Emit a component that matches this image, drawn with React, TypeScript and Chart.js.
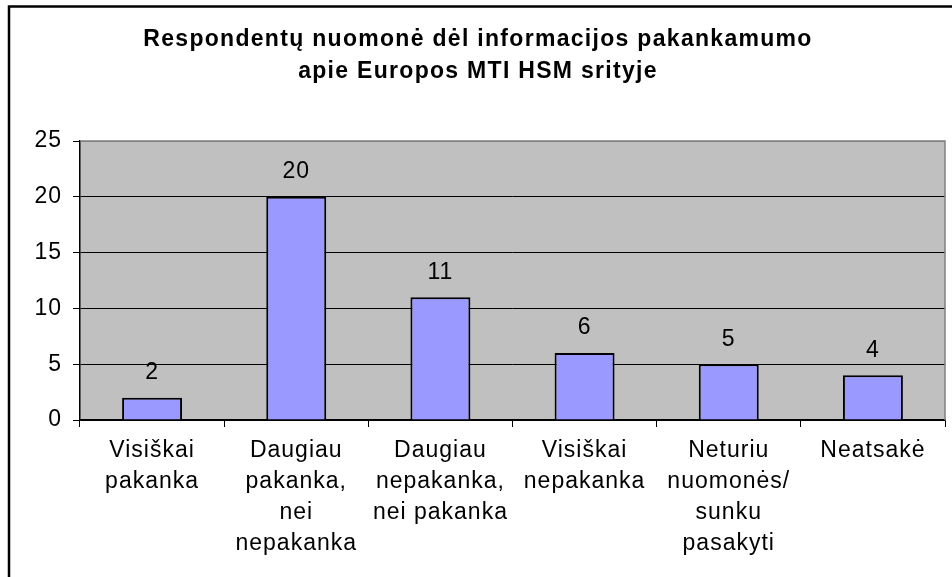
import { useEffect, useRef } from "react";
import { Chart, registerables } from "chart.js";

Chart.register(...registerables);

const titleLines = [
  "Respondentų nuomonė dėl informacijos pakankamumo",
  "apie Europos MTI HSM srityje",
];
const categories = [
  ["Visiškai", "pakanka"],
  ["Daugiau", "pakanka,", "nei", "nepakanka"],
  ["Daugiau", "nepakanka,", "nei pakanka"],
  ["Visiškai", "nepakanka"],
  ["Neturiu", "nuomonės/", "sunku", "pasakyti"],
  ["Neatsakė"],
];
const values = [2, 20, 11, 6, 5, 4];
const yMin = 0;
const yMax = 25;
const yStep = 5;

const FONT = 'Arial, "Liberation Sans", sans-serif';
const SPACING = "1px";

function setSpacing(ctx: any, v: string) {
  try {
    ctx.letterSpacing = v;
  } catch (e) {}
}

export default function App() {
  const ref = useRef<HTMLCanvasElement | null>(null);

  useEffect(() => {
    const canvas = ref.current;
    if (!canvas) return;

    const decor = {
      id: "decor",
      afterInit(chart: any) {
        setSpacing(chart.ctx, SPACING);
      },
      beforeUpdate(chart: any) {
        setSpacing(chart.ctx, SPACING);
      },
      beforeLayout(chart: any) {
        setSpacing(chart.ctx, SPACING);
      },
      beforeDraw(chart: any) {
        const { ctx, chartArea } = chart;
        setSpacing(ctx, SPACING);
        ctx.save();
        ctx.fillStyle = "#ffffff";
        ctx.fillRect(0, 0, chart.width, chart.height);
        ctx.fillStyle = "#C0C0C0";
        ctx.fillRect(
          chartArea.left,
          chartArea.top,
          chartArea.right - chartArea.left,
          chartArea.bottom - chartArea.top
        );
        ctx.restore();
      },
      afterDraw(chart: any) {
        const { ctx, chartArea } = chart;
        ctx.save();
        // plot area top/right border
        ctx.strokeStyle = "#808080";
        ctx.lineWidth = 1.5;
        ctx.beginPath();
        ctx.moveTo(chartArea.left, chartArea.top);
        ctx.lineTo(chartArea.right, chartArea.top);
        ctx.lineTo(chartArea.right, chartArea.bottom);
        ctx.stroke();

        // outer frame (top and left)
        ctx.strokeStyle = "#000";
        ctx.lineWidth = 2.5;
        ctx.beginPath();
        ctx.moveTo(9, chart.height);
        ctx.lineTo(9, 6.5);
        ctx.lineTo(chart.width, 6.5);
        ctx.stroke();

        // title
        ctx.fillStyle = "#000";
        ctx.font = `bold 23px ${FONT}`;
        ctx.textAlign = "center";
        ctx.textBaseline = "alphabetic";
        setSpacing(ctx, "1.3px");
        ctx.fillText(titleLines[0], 478, 46);
        ctx.fillText(titleLines[1], 478, 78);
        setSpacing(ctx, SPACING);

        // data labels
        ctx.font = `23px ${FONT}`;
        ctx.textBaseline = "middle";
        const meta = chart.getDatasetMeta(0);
        meta.data.forEach((bar: any, i: number) => {
          ctx.fillText(String(values[i]), bar.x, bar.y - 25);
        });
        ctx.restore();
      },
    };

    const chart = new Chart(canvas, {
      type: "bar",
      data: {
        labels: categories as any,
        datasets: [
          {
            data: values,
            backgroundColor: "#9999FF",
            borderColor: "#000000",
            borderWidth: 2,
            barPercentage: 0.416,
            categoryPercentage: 1,
          },
        ],
      },
      options: {
        responsive: false,
        animation: false,
        events: [],
        layout: { padding: { top: 141, right: 7, left: 0, bottom: 0 } },
        plugins: {
          legend: { display: false },
          tooltip: { enabled: false },
          title: { display: false },
        },
        scales: {
          x: {
            grid: {
              offset: true,
              drawOnChartArea: false,
              drawTicks: true,
              tickLength: 7,
              color: "#000",
            },
            border: { color: "#000", width: 1.5 },
            ticks: {
              color: "#000",
              font: { family: FONT, size: 23, lineHeight: 31 / 23 },
              padding: 8,
              maxRotation: 0,
              autoSkip: false,
            },
            afterFit: (s: any) => {
              s.height = 157;
            },
          },
          y: {
            min: yMin,
            max: yMax,
            ticks: {
              stepSize: yStep,
              color: "#000",
              font: { family: FONT, size: 23 },
              padding: 11,
            },
            grid: {
              color: (c: any) => (c.tick && c.tick.value === yMax ? "#808080" : "#000"),
              tickColor: "#000",
              tickLength: 7,
              lineWidth: 1,
            },
            border: { color: "#000", width: 1.5 },
            afterFit: (s: any) => {
              s.width = 80;
            },
          },
        },
      },
      plugins: [decor],
    });

    return () => chart.destroy();
  }, []);

  return (
    <div
      style={{
        position: "fixed",
        left: 0,
        top: 0,
        width: 952,
        height: 577,
        background: "#fff",
      }}
    >
      <canvas ref={ref} width={952} height={577} style={{ display: "block" }} />
    </div>
  );
}
